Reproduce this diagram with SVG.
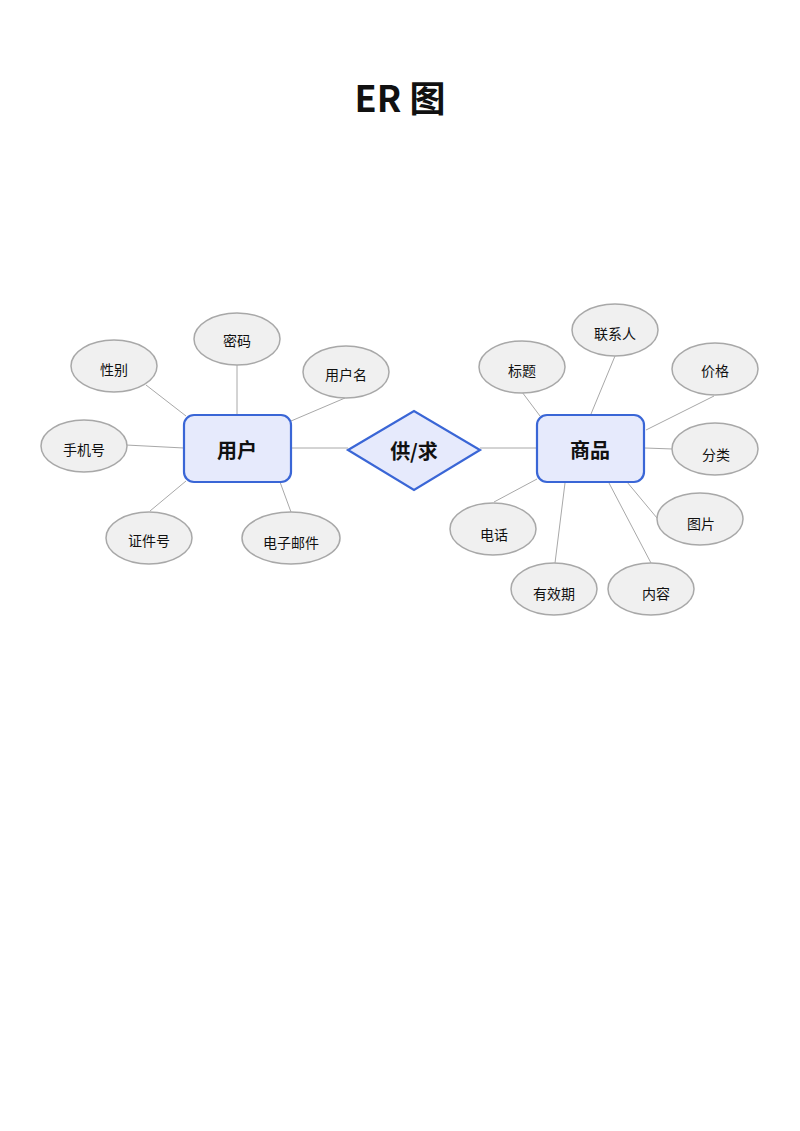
<svg xmlns="http://www.w3.org/2000/svg" width="800" height="1131" viewBox="0 0 800 1131">
<style>
text{font-family:"Noto Sans CJK SC","Noto Sans",sans-serif;text-anchor:middle;dominant-baseline:central;fill:#111}
.a ellipse{fill:#f0f0f0;stroke:#a8a8a8;stroke-width:1.5}
.a text{font-size:14px}
.e rect,.e polygon{fill:#e6eafc;stroke:#3a66d6;stroke-width:2.2}
.e text{font-size:20px;font-weight:bold}
#c line{stroke:#a8a8a8;stroke-width:1}
</style>
<rect width="800" height="1131" fill="#fff"/>
<text x="400" y="96" style="font-size:36px;font-weight:bold">ER 图</text>
<g id="c">
<line x1="146" y1="385" x2="186" y2="416"/>
<line x1="237" y1="365" x2="237" y2="414"/>
<line x1="345" y1="398" x2="291" y2="421"/>
<line x1="126" y1="445" x2="184" y2="448"/>
<line x1="150" y1="511" x2="186" y2="481"/>
<line x1="280" y1="482" x2="291" y2="512"/>
<line x1="291" y1="448" x2="348" y2="448"/>
<line x1="480" y1="448" x2="537" y2="448"/>
<line x1="522" y1="392" x2="540" y2="416"/>
<line x1="615" y1="356" x2="591" y2="414"/>
<line x1="714" y1="396" x2="646" y2="430"/>
<line x1="645" y1="448" x2="673" y2="449"/>
<line x1="627" y1="482" x2="657" y2="518"/>
<line x1="609" y1="483" x2="651" y2="563"/>
<line x1="565" y1="483" x2="555" y2="563"/>
<line x1="537" y1="479" x2="494" y2="502"/>
</g>
<g id="user" class="e"><rect x="184" y="415" width="107" height="67" rx="10"/><text x="237" y="449">用户</text></g>
<g id="rel" class="e"><polygon points="348,450 414,411 480,450 414,490"/><text x="414" y="450">供/求</text></g>
<g id="goods" class="e"><rect x="537" y="415" width="107" height="67" rx="10"/><text x="590" y="449">商品</text></g>
<g id="a1" class="a"><ellipse cx="237" cy="339" rx="43" ry="26"/><text x="237" y="340">密码</text></g>
<g id="a2" class="a"><ellipse cx="114" cy="366" rx="43" ry="26"/><text x="114" y="369">性别</text></g>
<g id="a3" class="a"><ellipse cx="346" cy="372" rx="43" ry="26"/><text x="346" y="374">用户名</text></g>
<g id="a4" class="a"><ellipse cx="84" cy="446" rx="43" ry="26"/><text x="84" y="449">手机号</text></g>
<g id="a5" class="a"><ellipse cx="149" cy="538" rx="43" ry="26"/><text x="149" y="540">证件号</text></g>
<g id="a6" class="a"><ellipse cx="291" cy="538" rx="49" ry="26"/><text x="291" y="542">电子邮件</text></g>
<g id="a7" class="a"><ellipse cx="522" cy="367" rx="43" ry="26"/><text x="522" y="370">标题</text></g>
<g id="a8" class="a"><ellipse cx="615" cy="330" rx="43" ry="26"/><text x="615" y="333">联系人</text></g>
<g id="a9" class="a"><ellipse cx="715" cy="369" rx="43" ry="26"/><text x="715" y="370">价格</text></g>
<g id="a10" class="a"><ellipse cx="715" cy="449" rx="43" ry="26"/><text x="716" y="454">分类</text></g>
<g id="a11" class="a"><ellipse cx="700" cy="519" rx="43" ry="26"/><text x="701" y="523">图片</text></g>
<g id="a12" class="a"><ellipse cx="493" cy="529" rx="43" ry="26"/><text x="494" y="534">电话</text></g>
<g id="a13" class="a"><ellipse cx="554" cy="589" rx="43" ry="26"/><text x="554" y="593">有效期</text></g>
<g id="a14" class="a"><ellipse cx="651" cy="589" rx="43" ry="26"/><text x="656" y="593">内容</text></g>
</svg>
